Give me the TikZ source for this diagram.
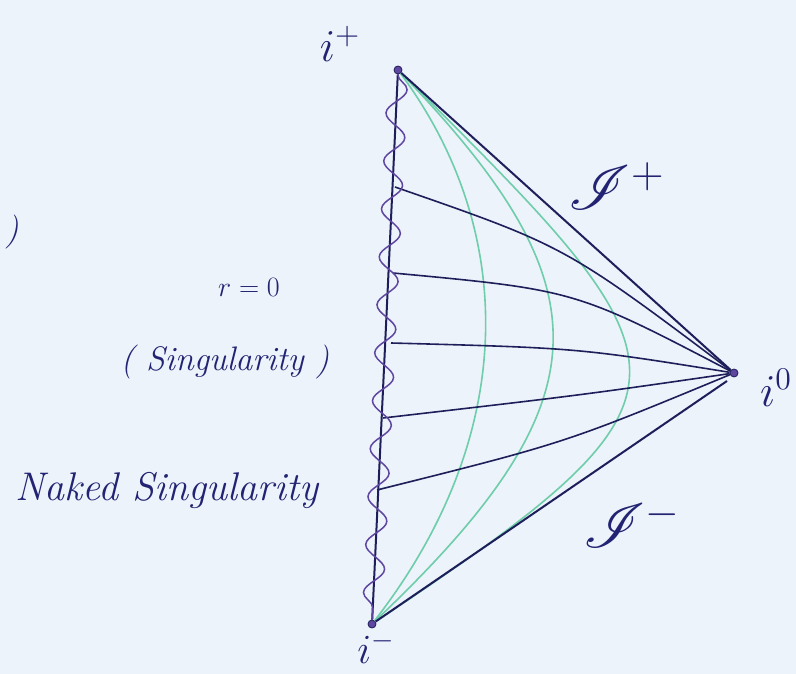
\documentclass[tikz,border=0pt]{standalone}
\usepackage{mathrsfs}
\usetikzlibrary{decorations.pathmorphing}
\definecolor{paper}{RGB}{236,243,250}
\definecolor{ink}{RGB}{30,30,90}
\definecolor{wave}{RGB}{95,70,160}
\definecolor{mint}{RGB}{110,205,170}
\definecolor{pen}{RGB}{35,35,115}
\begin{document}
\begin{tikzpicture}[x=1pt,y=-1pt,
  vertex/.style={circle,fill=wave,draw=ink,line width=0.8pt,inner sep=0pt,minimum size=8pt},
  edge/.style={draw=ink,line width=2pt},
  slice/.style={draw=ink,line width=1.6pt},
  orbit/.style={draw=mint,line width=1.6pt},
  hand/.style={inner sep=0pt,outer sep=0pt,text=pen,font=\itshape\fontsize{20}{24}\selectfont,scale=#1,transform shape}]
\path[fill=paper,use as bounding box] (0,0) rectangle (796,674);
\node[vertex] (iplus) at (398,70) {};
\node[vertex] (izero) at (734,373) {};
\node[vertex] (iminus) at (372,624) {};
\coordinate (scriend) at (727,381);
\coordinate (s1) at (395,187);
\coordinate (s2) at (393,273);
\coordinate (s3) at (391,343);
\coordinate (s4) at (383,418);
\coordinate (s5) at (377,490);
\draw[orbit] (iplus) .. controls (518,232) and (518,436) .. (iminus);
\draw[orbit] (iplus) .. controls (608,288) and (608,400) .. (iminus);
\draw[orbit] (iplus) .. controls (700,370) and (720,392) .. (iminus);
\draw[slice] (s1) .. controls (565,246) .. (izero);
\draw[slice] (s2) .. controls (575,290) .. (izero);
\draw[slice] (s3) .. controls (578,348) .. (izero);
\draw[slice] (s4) .. controls (582,395) .. (izero);
\draw[slice] (s5) .. controls (565,443) .. (izero);
\draw[edge] (iplus) -- (izero);
\draw[edge] (iminus) -- (scriend);
\draw[edge] (iplus) -- (iminus);
\draw[draw=wave,line width=1.5pt,decorate,decoration={snake,amplitude=10pt,segment length=48pt}] (iplus) -- (iminus);
\node[hand=2.2] (iplustext) at (340,44) {$i^{+}$};
\node[hand=2.2] (izerotext) at (776,388) {$i^{0}$};
\node[hand=2] (iminustext) at (376,648) {$i^{-}$};
\node[hand=3] (scriplus) at (617,186) {$\mathscr{I}^{+}$};
\node[hand=3] (scriminus) at (632,524) {$\mathscr{I}^{-}$};
\node[hand=1.35] (rzero) at (249,287) {$r=0$};
\node[hand=1.7,anchor=base] (singtext) at (225,370) {( Singularity )};
\node[hand=2,anchor=base] (nakedtext) at (167,500) {Naked Singularity};
\node[hand=1.7] (paren) at (12,232) {)};
\end{tikzpicture}
\end{document}
